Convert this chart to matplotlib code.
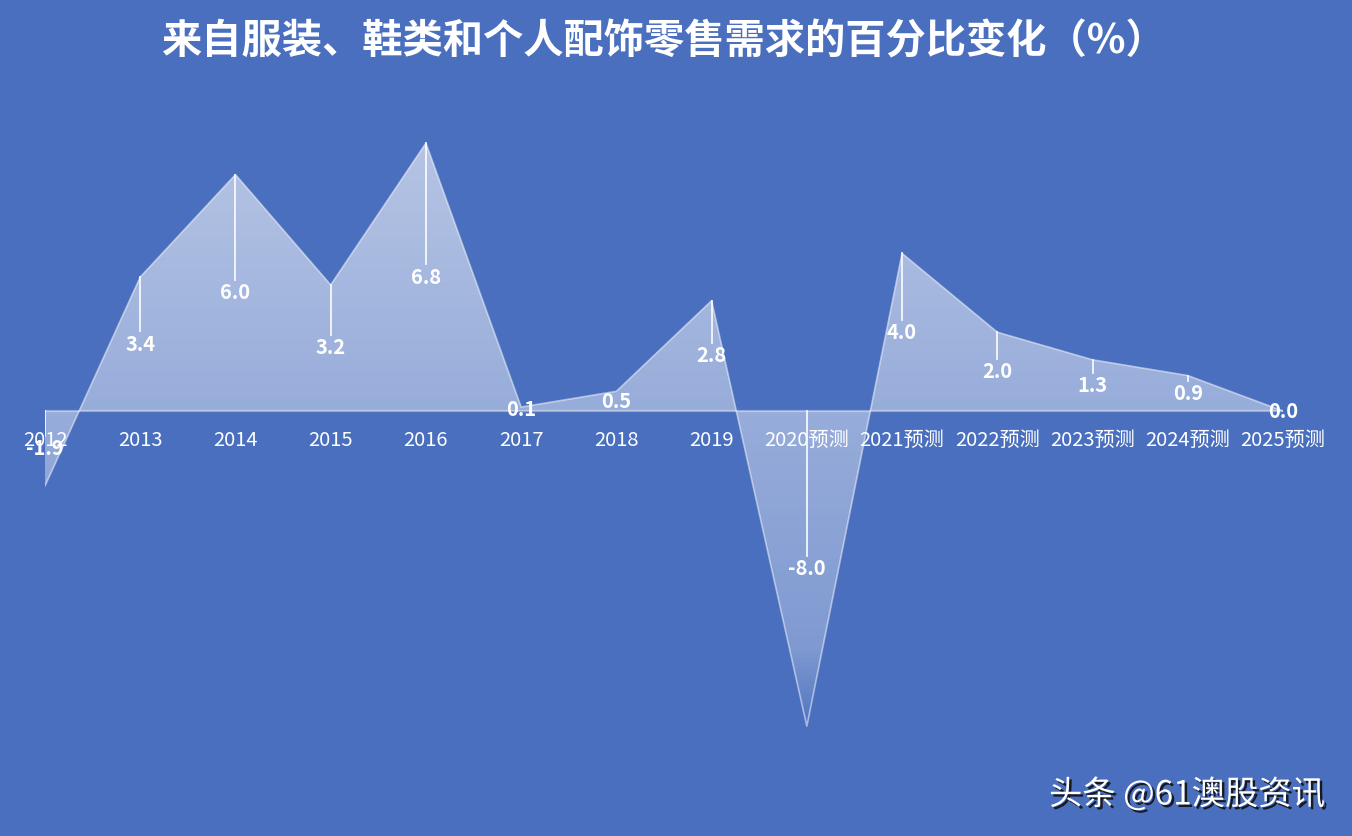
import numpy as np
import matplotlib
matplotlib.use("Agg")
import matplotlib.pyplot as plt
from matplotlib.patches import PathPatch
from matplotlib import patheffects as pe

plt.rcParams['font.family'] = ['Noto Sans CJK SC', 'DejaVu Sans']

# --- data ---
years = ['2012', '2013', '2014', '2015', '2016', '2017', '2018', '2019',
         '2020预测', '2021预测', '2022预测', '2023预测', '2024预测', '2025预测']
change = [-1.9, 3.4, 6.0, 3.2, 6.8, 0.1, 0.5, 2.8, -8.0, 4.0, 2.0, 1.3, 0.9, 0.0]

title = '来自服装、鞋类和个人配饰零售需求的百分比变化（%）'
bg = '#4a6fbe'

W, H = 1352, 836
fig = plt.figure(figsize=(W / 100, H / 100), dpi=100, facecolor=bg)
# axes placed so index 0 sits at x=45px, index 13 at x=1283px, zero at y=411px
ax = fig.add_axes([45 / W, (H - 760) / H, (1283 - 45) / W, 660 / H])
ax.set_facecolor(bg)
ppu = 39.4
ax.set_xlim(0, len(years) - 1)
ax.set_ylim(-(760 - 411) / ppu, (411 - 100) / ppu)
for s in ax.spines.values():
    s.set_visible(False)
ax.set_xticks([])
ax.set_yticks([])

x = np.arange(len(years))
y = np.array(change)

# zero line
ax.axhline(0, color='#8ea6d8', lw=1.6, zorder=1)

# gradient fill clipped to the area under the curve
poly = ax.fill_between(x, y, 0, color='none', lw=0)
path = poly.get_paths()[0]
patch = PathPatch(path, facecolor='none', edgecolor='none', transform=ax.transData)
ax.add_patch(patch)
y0, y1 = ax.get_ylim()
ys = np.linspace(y1, y0, 400)
alpha = np.interp(ys, [-8.2, -6.0, 0.0, 7.0], [0.02, 0.30, 0.43, 0.60])
grad = np.ones((400, 2, 4))
grad[:, :, 3] = alpha[:, None]
im = ax.imshow(grad, extent=[0, len(years) - 1, y0, y1], aspect='auto',
               interpolation='bilinear', zorder=2)
im.set_clip_path(patch)

# top edge
ax.plot(x, y, color='white', lw=1.2, alpha=0.5, zorder=3)

# drop lines and value labels at half height
for xi, v in zip(x, y):
    top = max(v, 0)
    end = v / 2 + 0.32
    if top - end > 0.05:
        ax.plot([xi, xi], [top, end], color='white', lw=1.3, alpha=0.9, zorder=4)
    ax.text(xi, v / 2, f'{v:.1f}', color='white', fontsize=14.5, fontweight='bold',
            ha='center', va='center', zorder=5)

# category labels
for xi, lab in zip(x, years):
    ax.text(xi, -29 / ppu, lab, color='white', fontsize=14.5, fontweight='medium',
            ha='center', va='center', zorder=5)

fig.text(663 / W, 1 - 42 / H, title, color='white', fontsize=29, fontweight='bold',
         ha='center', va='center')

fig.text(1325 / W, 1 - 795 / H, '头条 @61澳股资讯', color='white', fontsize=24,
         fontweight='medium', ha='right', va='center',
         path_effects=[pe.withSimplePatchShadow(offset=(1.8, -1.8), shadow_rgbFace='#111111', alpha=0.9)])

fig.savefig('out.png', dpi=100, facecolor=bg)
